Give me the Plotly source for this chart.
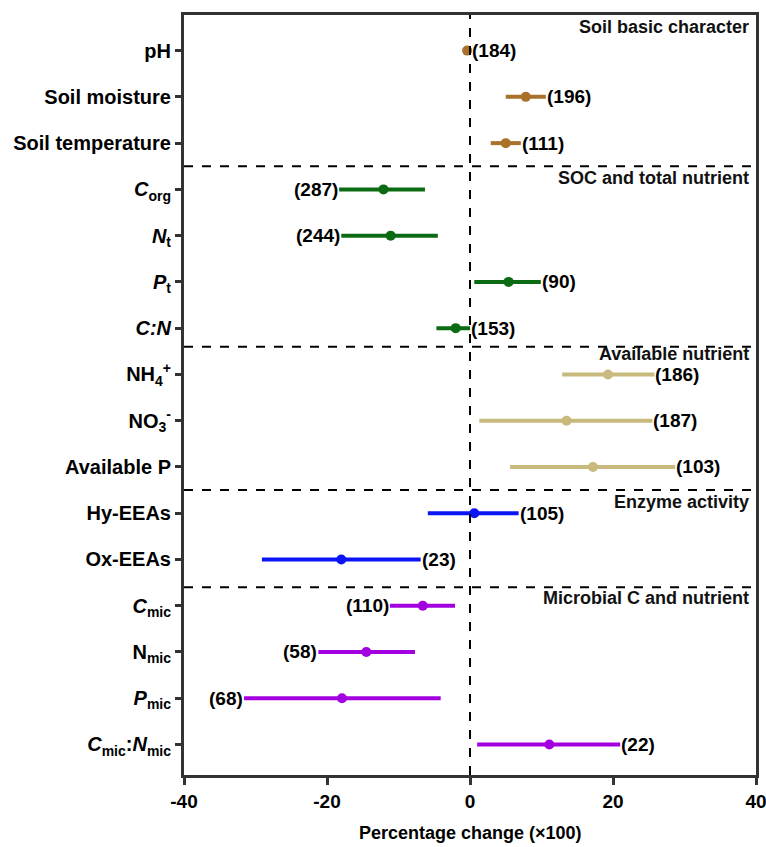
import plotly.graph_objects as go

# ---- data ----
labels = ["pH", "Soil moisture", "Soil temperature",
          "<i>C</i><sub>org</sub>", "<i>N</i><sub>t</sub>", "<i>P</i><sub>t</sub>", "<i>C:N</i>",
          "NH<sub>4</sub><sup>+</sup>", "NO<sub>3</sub><sup>-</sup>", "Available P",
          "Hy-EEAs", "Ox-EEAs",
          "<i>C</i><sub>mic</sub>", "N<sub>mic</sub>", "<i>P</i><sub>mic</sub>",
          "<i>C</i><sub>mic</sub>:<i>N</i><sub>mic</sub>"]
means = [-0.4, 7.8, 5.0, -12.1, -11.1, 5.4, -2.0, 19.3, 13.5, 17.2, 0.6, -18.0, -6.6, -14.5, -17.9, 11.1]
lows = [-1.0, 5.0, 2.9, -18.3, -18.0, 0.6, -4.7, 12.9, 1.3, 5.6, -5.9, -29.1, -11.2, -21.2, -31.6, 1.0]
highs = [0.2, 10.6, 7.1, -6.3, -4.5, 9.9, 0.0, 25.8, 25.5, 28.7, 6.8, -6.9, -2.1, -7.7, -4.1, 21.0]
counts = [184, 196, 111, 287, 244, 90, 153, 186, 187, 103, 105, 23, 110, 58, 68, 22]
count_side = ["right", "right", "right", "left", "left", "right", "right", "right", "right", "right",
              "right", "right", "left", "left", "left", "right"]

groups = ["Soil basic character", "SOC and total nutrient", "Available nutrient",
          "Enzyme activity", "Microbial C and nutrient"]
group_sizes = [3, 4, 3, 2, 4]
group_colors = ["#A9712A", "#0B6B12", "#C8B97C", "#0A14F5", "#A300E0"]
group_sep = [2.5, 6.4, 9.5, 11.6]           # separator positions between groups
group_label_y = [-0.51, 2.76, 6.56, 9.76, 11.84]
x_ticks = [-40, -20, 0, 20, 40]
x_ticktext = ["-40", "-20", "0", "20", "40"]
x_title = "Percentage change (×100)"

FONT = "Liberation Sans, Arial, sans-serif"

fig = go.Figure()
start = 0
for g, n, col in zip(groups, group_sizes, group_colors):
    idx = list(range(start, start + n))
    fig.add_trace(go.Scatter(
        x=[means[i] for i in idx], y=idx, mode="markers",
        marker=dict(color=col, size=10),
        error_x=dict(type="data", symmetric=False,
                     array=[highs[i] - means[i] for i in idx],
                     arrayminus=[means[i] - lows[i] for i in idx],
                     color=col, thickness=4, width=0),
        showlegend=False, hoverinfo="skip"))
    start += n

# count labels
for i, c in enumerate(counts):
    if count_side[i] == "right":
        fig.add_annotation(x=highs[i], y=i, text=f"({c})", showarrow=False,
                           xanchor="left", xshift=-1, font=dict(size=19, color="black", family=FONT, weight="bold"))
    else:
        fig.add_annotation(x=lows[i], y=i, text=f"({c})", showarrow=False,
                           xanchor="right", xshift=1, font=dict(size=19, color="black", family=FONT, weight="bold"))

# separators
for s in group_sep:
    fig.add_shape(type="line", xref="paper", x0=0, x1=1, yref="y", y0=s, y1=s,
                  line=dict(color="black", width=2, dash="dash"))
fig.add_shape(type="line", xref="x", x0=0, x1=0, yref="paper", y0=0, y1=1,
              line=dict(color="black", width=2, dash="dash"))

# group labels
for g, gy in zip(groups, group_label_y):
    fig.add_annotation(xref="paper", x=0.992, y=gy, text=g, showarrow=False,
                       xanchor="right", yanchor="middle",
                       font=dict(size=18, color="#111", family=FONT, weight="bold"))

fig.add_annotation(xref="paper", yref="paper", x=0.5, y=-0.0763, text=x_title,
                   showarrow=False, xanchor="center", yanchor="middle",
                   font=dict(size=18, color="black", family=FONT, weight="bold"))

fig.update_layout(
    width=766, height=847,
    margin=dict(l=184, r=10, t=15, b=72, autoexpand=False),
    plot_bgcolor="white", paper_bgcolor="white",
    font=dict(family=FONT, color="black"),
    xaxis=dict(range=[-40, 40], tickvals=x_ticks, ticktext=x_ticktext, ticks="outside", ticklen=7, tickwidth=3,
               tickcolor="#333", showline=True, linewidth=3, linecolor="#333", mirror=True,
               showgrid=False, zeroline=False, automargin=False, ticklabeloverflow="allow",
               tickfont=dict(size=19, family=FONT, weight="bold", color="black")),
    yaxis=dict(range=[15.66, -0.77], tickvals=list(range(len(labels))), ticktext=labels,
               ticks="outside", ticklen=6, tickwidth=3, tickcolor="#333",
               showline=True, linewidth=3, linecolor="#333", mirror=True,
               showgrid=False, zeroline=False, automargin=False,
               tickfont=dict(size=20, family=FONT, weight="bold", color="black")),
)

fig.write_html("out.html", config={"displayModeBar": False},
               post_script="document.body.style.margin='0';document.body.style.overflow='hidden';")
